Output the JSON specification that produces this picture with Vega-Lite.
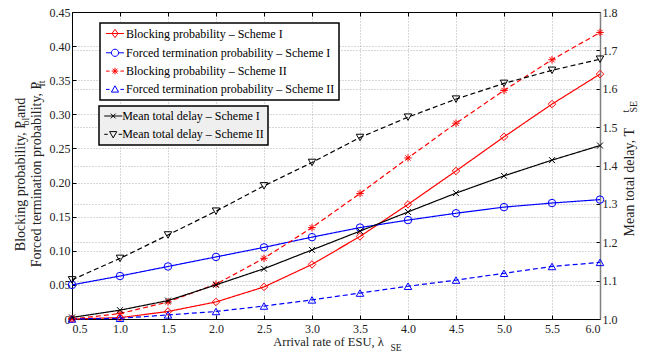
{
  "$schema": "https://vega.github.io/schema/vega-lite/v6.json",
  "autosize": {"type": "none"},
  "padding": {"left": 72, "top": 12, "right": 47, "bottom": 39},
  "width": 528,
  "height": 307,
  "background": "white",
  "data": {
    "values": [
      {"lambda": 0.5, "series": "Blocking probability – Scheme I", "value": 0.0},
      {"lambda": 1.0, "series": "Blocking probability – Scheme I", "value": 0.002},
      {"lambda": 1.5, "series": "Blocking probability – Scheme I", "value": 0.011},
      {"lambda": 2.0, "series": "Blocking probability – Scheme I", "value": 0.025},
      {"lambda": 2.5, "series": "Blocking probability – Scheme I", "value": 0.047},
      {"lambda": 3.0, "series": "Blocking probability – Scheme I", "value": 0.080},
      {"lambda": 3.5, "series": "Blocking probability – Scheme I", "value": 0.121},
      {"lambda": 4.0, "series": "Blocking probability – Scheme I", "value": 0.168},
      {"lambda": 4.5, "series": "Blocking probability – Scheme I", "value": 0.217},
      {"lambda": 5.0, "series": "Blocking probability – Scheme I", "value": 0.267},
      {"lambda": 5.5, "series": "Blocking probability – Scheme I", "value": 0.315},
      {"lambda": 6.0, "series": "Blocking probability – Scheme I", "value": 0.359},
      {"lambda": 0.5, "series": "Forced termination probability – Scheme I", "value": 0.050},
      {"lambda": 1.0, "series": "Forced termination probability – Scheme I", "value": 0.063},
      {"lambda": 1.5, "series": "Forced termination probability – Scheme I", "value": 0.077},
      {"lambda": 2.0, "series": "Forced termination probability – Scheme I", "value": 0.091},
      {"lambda": 2.5, "series": "Forced termination probability – Scheme I", "value": 0.105},
      {"lambda": 3.0, "series": "Forced termination probability – Scheme I", "value": 0.120},
      {"lambda": 3.5, "series": "Forced termination probability – Scheme I", "value": 0.134},
      {"lambda": 4.0, "series": "Forced termination probability – Scheme I", "value": 0.145},
      {"lambda": 4.5, "series": "Forced termination probability – Scheme I", "value": 0.155},
      {"lambda": 5.0, "series": "Forced termination probability – Scheme I", "value": 0.164},
      {"lambda": 5.5, "series": "Forced termination probability – Scheme I", "value": 0.170},
      {"lambda": 6.0, "series": "Forced termination probability – Scheme I", "value": 0.175},
      {"lambda": 0.5, "series": "Blocking probability – Scheme II", "value": 0.0},
      {"lambda": 1.0, "series": "Blocking probability – Scheme II", "value": 0.008},
      {"lambda": 1.5, "series": "Blocking probability – Scheme II", "value": 0.025},
      {"lambda": 2.0, "series": "Blocking probability – Scheme II", "value": 0.051},
      {"lambda": 2.5, "series": "Blocking probability – Scheme II", "value": 0.089},
      {"lambda": 3.0, "series": "Blocking probability – Scheme II", "value": 0.134},
      {"lambda": 3.5, "series": "Blocking probability – Scheme II", "value": 0.184},
      {"lambda": 4.0, "series": "Blocking probability – Scheme II", "value": 0.236},
      {"lambda": 4.5, "series": "Blocking probability – Scheme II", "value": 0.287},
      {"lambda": 5.0, "series": "Blocking probability – Scheme II", "value": 0.335},
      {"lambda": 5.5, "series": "Blocking probability – Scheme II", "value": 0.380},
      {"lambda": 6.0, "series": "Blocking probability – Scheme II", "value": 0.420},
      {"lambda": 0.5, "series": "Forced termination probability – Scheme II", "value": 0.0},
      {"lambda": 1.0, "series": "Forced termination probability – Scheme II", "value": 0.001},
      {"lambda": 1.5, "series": "Forced termination probability – Scheme II", "value": 0.006},
      {"lambda": 2.0, "series": "Forced termination probability – Scheme II", "value": 0.011},
      {"lambda": 2.5, "series": "Forced termination probability – Scheme II", "value": 0.019},
      {"lambda": 3.0, "series": "Forced termination probability – Scheme II", "value": 0.028},
      {"lambda": 3.5, "series": "Forced termination probability – Scheme II", "value": 0.038},
      {"lambda": 4.0, "series": "Forced termination probability – Scheme II", "value": 0.048},
      {"lambda": 4.5, "series": "Forced termination probability – Scheme II", "value": 0.057},
      {"lambda": 5.0, "series": "Forced termination probability – Scheme II", "value": 0.067},
      {"lambda": 5.5, "series": "Forced termination probability – Scheme II", "value": 0.077},
      {"lambda": 6.0, "series": "Forced termination probability – Scheme II", "value": 0.083},
      {"lambda": 0.5, "series": "Mean total delay – Scheme I", "value": 1.004},
      {"lambda": 1.0, "series": "Mean total delay – Scheme I", "value": 1.023},
      {"lambda": 1.5, "series": "Mean total delay – Scheme I", "value": 1.048},
      {"lambda": 2.0, "series": "Mean total delay – Scheme I", "value": 1.089},
      {"lambda": 2.5, "series": "Mean total delay – Scheme I", "value": 1.131},
      {"lambda": 3.0, "series": "Mean total delay – Scheme I", "value": 1.180},
      {"lambda": 3.5, "series": "Mean total delay – Scheme I", "value": 1.229},
      {"lambda": 4.0, "series": "Mean total delay – Scheme I", "value": 1.279},
      {"lambda": 4.5, "series": "Mean total delay – Scheme I", "value": 1.328},
      {"lambda": 5.0, "series": "Mean total delay – Scheme I", "value": 1.373},
      {"lambda": 5.5, "series": "Mean total delay – Scheme I", "value": 1.414},
      {"lambda": 6.0, "series": "Mean total delay – Scheme I", "value": 1.452},
      {"lambda": 0.5, "series": "Mean total delay – Scheme II", "value": 1.102},
      {"lambda": 1.0, "series": "Mean total delay – Scheme II", "value": 1.158},
      {"lambda": 1.5, "series": "Mean total delay – Scheme II", "value": 1.219},
      {"lambda": 2.0, "series": "Mean total delay – Scheme II", "value": 1.281},
      {"lambda": 2.5, "series": "Mean total delay – Scheme II", "value": 1.347},
      {"lambda": 3.0, "series": "Mean total delay – Scheme II", "value": 1.408},
      {"lambda": 3.5, "series": "Mean total delay – Scheme II", "value": 1.473},
      {"lambda": 4.0, "series": "Mean total delay – Scheme II", "value": 1.526},
      {"lambda": 4.5, "series": "Mean total delay – Scheme II", "value": 1.573},
      {"lambda": 5.0, "series": "Mean total delay – Scheme II", "value": 1.614},
      {"lambda": 5.5, "series": "Mean total delay – Scheme II", "value": 1.648},
      {"lambda": 6.0, "series": "Mean total delay – Scheme II", "value": 1.677}
    ]
  },
  "layer": [
    {
      "transform": [{"filter": {"field": "series", "oneOf": ["Blocking probability – Scheme I", "Forced termination probability – Scheme I", "Blocking probability – Scheme II", "Forced termination probability – Scheme II"]}}],
      "mark": {"type": "line", "strokeWidth": 1.2},
      "encoding": {
        "x": {
          "field": "lambda", "type": "quantitative",
          "scale": {"domain": [0.5, 6.0]},
          "axis": {
            "orient": "bottom",
            "values": [0.5, 1.0, 1.5, 2.0, 2.5, 3.0, 3.5, 4.0, 4.5, 5.0, 5.5, 6.0],
            "format": ".1f",
            "grid": true,
            "tickSize": -4,
            "labelPadding": 8,
            "title": "Arrival rate of ESU,  λ",
            "titleFontSize": 12.5,
            "titleX": 200.7,
            "titleY": 26,
            "titleAlign": "left",
            "titleBaseline": "alphabetic",
            "titleAngle": 0
          }
        },
        "y": {
          "field": "value", "type": "quantitative",
          "scale": {"domain": [0, 0.45]},
          "axis": {
            "orient": "left",
            "values": [0, 0.05, 0.1, 0.15, 0.2, 0.25, 0.3, 0.35, 0.4, 0.45],
            "labelExpr": "datum.value === 0 ? '0' : format(datum.value, '.2f')",
            "grid": true,
            "tickSize": -4,
            "labelPadding": 6,
            "title": ["Blocking probability,  P     and", "Forced termination probability, P   "],
            "titleFontSize": 14,
            "titleX": -48,
            "titleY": 162,
            "titleAngle": 270,
            "titleAlign": "center",
            "titleBaseline": "alphabetic",
            "titleLineHeight": 16
          }
        },
        "color": {
          "field": "series", "type": "nominal",
          "scale": {"domain": ["Blocking probability – Scheme I", "Forced termination probability – Scheme I", "Blocking probability – Scheme II", "Forced termination probability – Scheme II"], "range": ["#ff0000", "#0000ff", "#ff0000", "#0000ff"]},
          "legend": null
        },
        "strokeDash": {
          "field": "series", "type": "nominal",
          "scale": {"domain": ["Blocking probability – Scheme I", "Forced termination probability – Scheme I", "Blocking probability – Scheme II", "Forced termination probability – Scheme II"], "range": [[1, 0], [1, 0], [5, 3], [5, 3]]},
          "legend": null
        }
      }
    },
    {
      "transform": [{"filter": {"field": "series", "oneOf": ["Blocking probability – Scheme I", "Forced termination probability – Scheme I", "Blocking probability – Scheme II", "Forced termination probability – Scheme II"]}}],
      "mark": {"type": "point", "filled": false, "strokeWidth": 1, "opacity": 1, "size": 56},
      "encoding": {
        "x": {"field": "lambda", "type": "quantitative", "scale": {"domain": [0.5, 6.0]}, "axis": null},
        "y": {"field": "value", "type": "quantitative", "scale": {"domain": [0, 0.45]}, "axis": null},
        "color": {
          "field": "series", "type": "nominal",
          "scale": {"domain": ["Blocking probability – Scheme I", "Forced termination probability – Scheme I", "Blocking probability – Scheme II", "Forced termination probability – Scheme II"], "range": ["#ff0000", "#0000ff", "#ff0000", "#0000ff"]},
          "legend": null
        },
        "shape": {
          "field": "series", "type": "nominal",
          "scale": {"domain": ["Blocking probability – Scheme I", "Forced termination probability – Scheme I", "Blocking probability – Scheme II", "Forced termination probability – Scheme II"], "range": ["diamond", "circle", "M-1,0H1M0,-1V1M-0.7,-0.7L0.7,0.7M-0.7,0.7L0.7,-0.7", "triangle-up"]},
          "legend": null
        }
      }
    },
    {
      "transform": [{"filter": "false"}],
      "mark": {"type": "point", "filled": false, "strokeWidth": 1, "opacity": 1, "size": 36},
      "encoding": {
        "x": {"field": "lambda", "type": "quantitative", "scale": {"domain": [0.5, 6.0]}, "axis": null},
        "y": {"field": "value", "type": "quantitative", "scale": {"domain": [0, 0.45]}, "axis": null},
        "color": {
          "field": "series", "type": "nominal",
          "scale": {"domain": ["Blocking probability – Scheme I", "Forced termination probability – Scheme I", "Blocking probability – Scheme II", "Forced termination probability – Scheme II"], "range": ["#ff0000", "#0000ff", "#ff0000", "#0000ff"]},
          "legend": {
            "orient": "none",
            "legendX": 28,
            "legendY": 11,
            "title": null,
            "padding": 4.5,
            "strokeColor": "black",
            "fillColor": "white",
            "labelFont": "Liberation Serif",
            "labelFontSize": 12,
            "symbolSize": 36,
            "symbolStrokeWidth": 1,
            "symbolOpacity": 1,
            "symbolOffset": 4.5,
            "labelOffset": 5,
            "rowPadding": 6.3,
            "labelLimit": 400
          }
        },
        "shape": {
          "field": "series", "type": "nominal",
          "scale": {"domain": ["Blocking probability – Scheme I", "Forced termination probability – Scheme I", "Blocking probability – Scheme II", "Forced termination probability – Scheme II"], "range": ["M-3,0H3M0,-1.4L1,0L0,1.4L-1,0Z", "M-3,0H-1.2M1.2,0H3M1.2,0A1.2,1.2,0,1,1,-1.2,0A1.2,1.2,0,1,1,1.2,0", "M-3,0H-1.8M1.8,0H3M-1.1,0H1.1M0,-1.1V1.1M-0.8,-0.8L0.8,0.8M-0.8,0.8L0.8,-0.8", "M-3,0H-1.8M1.8,0H3M0,-1.2L1.2,0.9L-1.2,0.9Z"]}
        }
      }
    },
    {
      "transform": [{"filter": {"field": "series", "oneOf": ["Mean total delay – Scheme I", "Mean total delay – Scheme II"]}}],
      "mark": {"type": "line", "strokeWidth": 1.2},
      "encoding": {
        "x": {"field": "lambda", "type": "quantitative", "scale": {"domain": [0.5, 6.0]}, "axis": null},
        "y": {
          "field": "value", "type": "quantitative",
          "scale": {"domain": [1.0, 1.8]},
          "axis": {
            "orient": "right",
            "values": [1.0, 1.1, 1.2, 1.3, 1.4, 1.5, 1.6, 1.7, 1.8],
            "format": ".1f",
            "grid": true,
            "tickSize": -4,
            "labelPadding": 6,
            "domainColor": "#808080",
            "domainWidth": 1.5,
            "title": "Mean total delay,  T",
            "titleFontSize": 14,
            "titleX": 33,
            "titleY": 224,
            "titleAngle": 270,
            "titleAlign": "left",
            "titleBaseline": "alphabetic"
          }
        },
        "color": {
          "field": "series", "type": "nominal",
          "scale": {"domain": ["Mean total delay – Scheme I", "Mean total delay – Scheme II"], "range": ["#000000", "#000000"]},
          "legend": null
        },
        "strokeDash": {
          "field": "series", "type": "nominal",
          "scale": {"domain": ["Mean total delay – Scheme I", "Mean total delay – Scheme II"], "range": [[1, 0], [5, 3]]},
          "legend": null
        }
      }
    },
    {
      "transform": [{"filter": {"field": "series", "oneOf": ["Mean total delay – Scheme I", "Mean total delay – Scheme II"]}}],
      "mark": {"type": "point", "filled": false, "strokeWidth": 1, "opacity": 1, "size": 56},
      "encoding": {
        "x": {"field": "lambda", "type": "quantitative", "scale": {"domain": [0.5, 6.0]}, "axis": null},
        "y": {"field": "value", "type": "quantitative", "scale": {"domain": [1.0, 1.8]}, "axis": null},
        "color": {
          "field": "series", "type": "nominal",
          "scale": {"domain": ["Mean total delay – Scheme I", "Mean total delay – Scheme II"], "range": ["#000000", "#000000"]},
          "legend": null
        },
        "shape": {
          "field": "series", "type": "nominal",
          "scale": {"domain": ["Mean total delay – Scheme I", "Mean total delay – Scheme II"], "range": ["M-0.8,-0.8L0.8,0.8M-0.8,0.8L0.8,-0.8", "triangle-down"]},
          "legend": null
        }
      }
    },
    {
      "transform": [{"filter": "false"}],
      "mark": {"type": "point", "filled": false, "strokeWidth": 1, "opacity": 1, "size": 36},
      "encoding": {
        "x": {"field": "lambda", "type": "quantitative", "scale": {"domain": [0.5, 6.0]}, "axis": null},
        "y": {"field": "value", "type": "quantitative", "scale": {"domain": [1.0, 1.8]}, "axis": null},
        "color": {
          "field": "series", "type": "nominal",
          "scale": {"domain": ["Mean total delay – Scheme I", "Mean total delay – Scheme II"], "range": ["#000000", "#000000"]},
          "legend": {
            "orient": "none",
            "legendX": 27,
            "legendY": 94,
            "title": null,
            "padding": 4,
            "strokeColor": "black",
            "fillColor": "#efefef",
            "labelFont": "Liberation Serif",
            "labelFontSize": 12,
            "symbolSize": 36,
            "symbolStrokeWidth": 1,
            "symbolOpacity": 1,
            "symbolOffset": 4.2,
            "labelOffset": 3,
            "rowPadding": 6.3,
            "labelLimit": 400
          }
        },
        "shape": {
          "field": "series", "type": "nominal",
          "scale": {"domain": ["Mean total delay – Scheme I", "Mean total delay – Scheme II"], "range": ["M-3,0H3M-0.8,-0.8L0.8,0.8M-0.8,0.8L0.8,-0.8", "M-3,0H-1.8M1.8,0H3M-1.2,-0.9L1.2,-0.9L0,1.2Z"]}
        }
      }
    },
    {
      "transform": [{"filter": {"field": "series", "equal": "Mean total delay – Scheme I"}}],
      "mark": {"type": "point", "opacity": 0},
      "encoding": {
        "x": {
          "field": "lambda", "type": "quantitative", "scale": {"domain": [0.5, 6.0]},
          "axis": {"orient": "bottom", "domain": false, "ticks": false, "labels": false, "grid": false, "title": "SE", "titleFontSize": 9.5, "titleX": 318, "titleY": 31, "titleAlign": "left", "titleBaseline": "alphabetic", "titleAngle": 0}
        },
        "y": {
          "field": "value", "type": "quantitative", "scale": {"domain": [1.0, 1.8]},
          "axis": {"orient": "left", "domain": false, "ticks": false, "labels": false, "grid": false, "title": "bl", "titleFontSize": 10, "titleX": -44, "titleY": 113, "titleAngle": 270, "titleAlign": "left", "titleBaseline": "alphabetic"}
        }
      }
    },
    {
      "transform": [{"filter": {"field": "series", "equal": "Mean total delay – Scheme I"}}],
      "mark": {"type": "point", "opacity": 0},
      "encoding": {
        "x": {
          "field": "lambda", "type": "quantitative", "scale": {"domain": [0.5, 6.0]},
          "axis": {"orient": "top", "values": [0.5, 1.0, 1.5, 2.0, 2.5, 3.0, 3.5, 4.0, 4.5, 5.0, 5.5, 6.0], "domain": true, "ticks": true, "tickSize": -4, "labels": false, "grid": false, "title": null}
        },
        "y": {
          "field": "value", "type": "quantitative", "scale": {"domain": [1.0, 1.8]},
          "axis": {"orient": "left", "domain": false, "ticks": false, "labels": false, "grid": false, "title": "ft", "titleFontSize": 10, "titleX": -28, "titleY": 74, "titleAngle": 270, "titleAlign": "left", "titleBaseline": "alphabetic"}
        }
      }
    },
    {
      "transform": [{"filter": {"field": "series", "equal": "Mean total delay – Scheme I"}}],
      "mark": {"type": "point", "opacity": 0},
      "encoding": {
        "x": {"field": "lambda", "type": "quantitative", "scale": {"domain": [0.5, 6.0]}, "axis": null},
        "y": {
          "field": "value", "type": "quantitative", "scale": {"domain": [1.0, 1.8]},
          "axis": {"orient": "right", "domain": false, "ticks": false, "labels": false, "grid": false, "title": ["t", "SE"], "titleFontSize": 10, "titleLineHeight": 8, "titleX": 28, "titleY": 100, "titleAngle": 270, "titleAlign": "left", "titleBaseline": "alphabetic"}
        }
      }
    }
  ],
  "resolve": {
    "scale": {"x": "independent", "y": "independent", "color": "independent", "shape": "independent", "strokeDash": "independent"},
    "axis": {"x": "independent", "y": "independent"},
    "legend": {"color": "independent", "shape": "independent"}
  },
  "config": {
    "font": "Liberation Serif",
    "view": {"stroke": "black", "strokeWidth": 1},
    "axis": {
      "labelFont": "Liberation Serif",
      "labelFontSize": 12,
      "labelColor": "#222222",
      "titleFont": "Liberation Serif",
      "titleFontSize": 12,
      "titleFontWeight": "normal",
      "titleColor": "#222222",
      "domainColor": "black",
      "tickColor": "black",
      "gridColor": "#b0b0b0",
      "gridDash": [1, 2],
      "gridOpacity": 1
    },
    "legend": {
      "labelFont": "Liberation Serif",
      "labelFontSize": 12,
      "labelColor": "black",
      "strokeWidth": 1.5
    }
  }
}
